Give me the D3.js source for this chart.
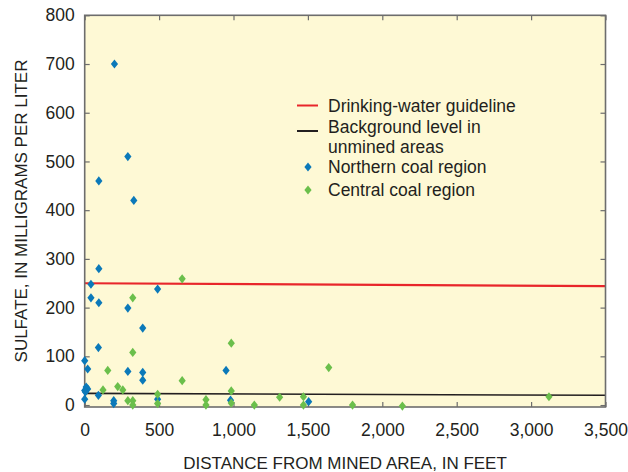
<!DOCTYPE html>
<html>
<head>
<meta charset="utf-8">
<script src="https://cdn.jsdelivr.net/npm/d3@7"></script>
<style>
  body { margin: 0; background: #fff; }
  text { font-family: "Liberation Sans", Arial, sans-serif; fill: #231f20; }
</style>
</head>
<body>
<div id="chart"></div>
<script>
// distance from mined area (ft) and sulfate (mg/L)
const northDist = [200, 290, 95, 330, 95, 42, 490, 42, 95, 290, 390, 92, 0, 20, 290, 390, 390,
                   0, 10, 20, 5, 92, 0, 195, 195, 490, 950, 980, 1505];
const northSulf = [700, 510, 460, 420, 280, 248, 238, 220, 210, 199, 158, 118, 91, 74, 69, 67, 51,
                   30, 37, 33, 27, 20, 12, 9, 3, 12, 71, 10, 7];

const centDist = [655, 323, 323, 155, 123, 222, 256, 290, 323, 323, 490, 490, 655, 985, 985, 815,
                  815, 985, 1140, 1640, 1310, 1470, 1470, 1800, 2135, 3120];
const centSulf = [259, 220, 108, 71, 31, 38, 31, 9, 9, 0, 22, 3, 50, 127, 29, 11,
                  0, 4, 0, 77, 16, 17, 0, 0, -2, 17];

const guideDist = [0, 3500];
const guideSulf = [250, 244];
const backDist = [0, 3500];
const backSulf = [24, 20];

const xTicks = [0, 500, 1000, 1500, 2000, 2500, 3000, 3500];
const yTicks = [0, 100, 200, 300, 400, 500, 600, 700, 800];

const legendLabels = ["Drinking-water guideline", ["Background level in", "unmined areas"],
                      "Northern coal region", "Central coal region"];

const W = 628, H = 472;
const margin = {left: 84.7, right: 22.5, top: 15.3, bottom: 65};
const iw = W - margin.left - margin.right;
const ih = H - margin.top - margin.bottom;

const blue = "#0b79b9", green = "#6bbf4b", red = "#e8262b";

const svg = d3.select("#chart").append("svg").attr("width", W).attr("height", H);
const g = svg.append("g").attr("transform", `translate(${margin.left},${margin.top})`);

const scx = d3.scaleLinear([0, 3500], [0, iw]);
const scy = d3.scaleLinear([-4, 800], [ih, 0]);

g.append("rect").attr("width", iw).attr("height", ih).attr("fill", "#fef9d5");

const fmt = d3.format(",");
const tickStyle = sel => {
  sel.select(".domain").remove();
  sel.selectAll(".tick line").attr("stroke", "#6d6d6d").attr("stroke-width", 1.2);
  sel.selectAll(".tick text").attr("font-size", 17.5).attr("fill", "#231f20")
     .attr("font-family", "Liberation Sans, Arial, sans-serif");
};

g.append("g").attr("transform", `translate(0,${ih})`)
  .call(d3.axisBottom(scx).tickValues(xTicks).tickFormat(fmt).tickSizeInner(-5).tickSizeOuter(0).tickPadding(17))
  .call(tickStyle);
g.append("g")
  .call(d3.axisTop(scx).tickValues(xTicks).tickFormat("").tickSizeInner(-5).tickSizeOuter(0))
  .call(tickStyle);
g.append("g")
  .call(d3.axisLeft(scy).tickValues(yTicks).tickSizeInner(-5).tickSizeOuter(0).tickPadding(10))
  .call(tickStyle);
g.append("g").attr("transform", `translate(${iw},0)`)
  .call(d3.axisRight(scy).tickValues(yTicks).tickFormat("").tickSizeInner(-5).tickSizeOuter(0))
  .call(tickStyle);

const line = d3.line().x(d => scx(d[0])).y(d => scy(d[1]));

g.append("path").datum(d3.zip(backDist, backSulf))
  .attr("d", line).attr("fill", "none").attr("stroke", "#231f20").attr("stroke-width", 1.6);
g.append("path").datum(d3.zip(guideDist, guideSulf))
  .attr("d", line).attr("fill", "none").attr("stroke", red).attr("stroke-width", 2.2);

g.append("rect").attr("width", iw).attr("height", ih)
  .attr("fill", "none").attr("stroke", "#6d6d6d").attr("stroke-width", 1.6);

const diamond = "M0,-4.6L3.6,0L0,4.6L-3.6,0Z";

g.selectAll(".north")
  .data(d3.zip(northDist, northSulf))
  .join("path")
  .attr("class", "north")
  .attr("d", diamond)
  .attr("transform", d => `translate(${scx(d[0])},${scy(d[1])})`)
  .attr("fill", blue);

g.selectAll(".central")
  .data(d3.zip(centDist, centSulf))
  .join("path")
  .attr("class", "central")
  .attr("d", diamond)
  .attr("transform", d => `translate(${scx(d[0])},${scy(d[1])})`)
  .attr("fill", green);

// legend
const lg = svg.append("g").attr("font-size", 17.5);
lg.append("line").attr("x1", 297).attr("x2", 318).attr("y1", 105.5).attr("y2", 105.5)
  .attr("stroke", red).attr("stroke-width", 2);
lg.append("text").attr("x", 328).attr("y", 112).text(legendLabels[0]);
lg.append("line").attr("x1", 297).attr("x2", 318).attr("y1", 131).attr("y2", 131)
  .attr("stroke", "#231f20").attr("stroke-width", 2);
lg.append("text").attr("x", 328).attr("y", 133).text(legendLabels[1][0]);
lg.append("text").attr("x", 328).attr("y", 153).text(legendLabels[1][1]);
lg.append("path").attr("d", diamond).attr("transform", "translate(308,167)").attr("fill", blue);
lg.append("text").attr("x", 328).attr("y", 173).text(legendLabels[2]);
lg.append("path").attr("d", diamond).attr("transform", "translate(308,190)").attr("fill", green);
lg.append("text").attr("x", 328).attr("y", 196).text(legendLabels[3]);

// axis titles
svg.append("text").attr("x", 345).attr("y", 469).attr("text-anchor", "middle")
  .attr("font-size", 17).text("DISTANCE FROM MINED AREA, IN FEET");
svg.append("text").attr("transform", "translate(27,211) rotate(-90)").attr("text-anchor", "middle")
  .attr("font-size", 17).text("SULFATE, IN MILLIGRAMS PER LITER");
</script>
</body>
</html>
